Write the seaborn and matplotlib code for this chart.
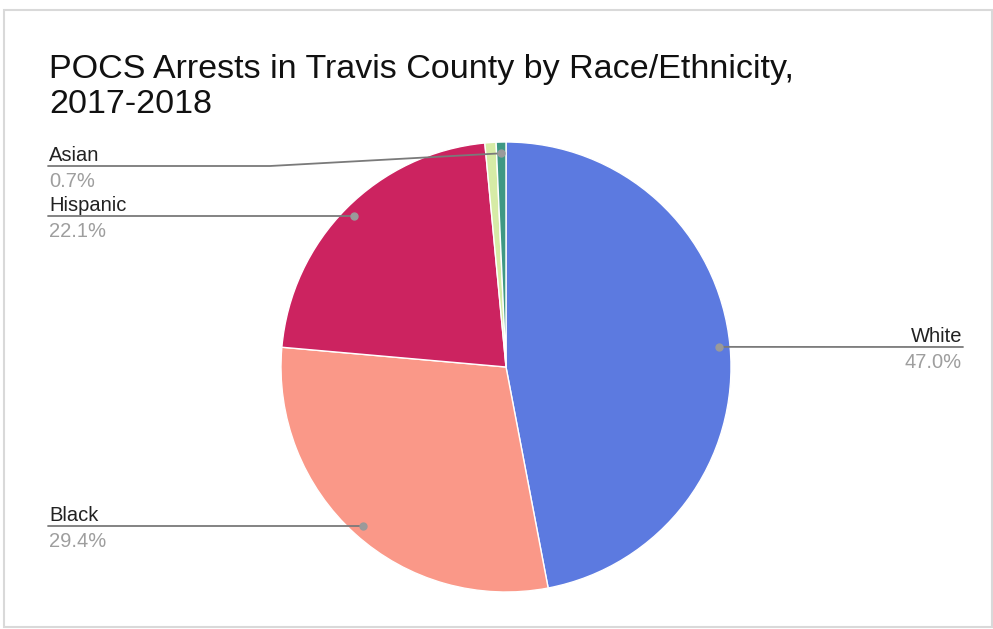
import numpy as np
import matplotlib
matplotlib.use("Agg")
import matplotlib.pyplot as plt
import matplotlib.patches as mpatches
import seaborn as sns

# data (clockwise from 12 o'clock)
races = ["White", "Black", "Hispanic", "Other", "Asian"]
shares = [47.0, 29.4, 22.1, 0.8, 0.7]
show_label = [True, True, True, False, True]
colors = ["#5c7ae0", "#fa9888", "#cc2360", "#d6eba6", "#3e9884"]
title_lines = ["POCS Arrests in Travis County by Race/Ethnicity,", "2017-2018"]

sns.set_theme(style="white")
plt.rcParams["font.family"] = ["Liberation Sans", "DejaVu Sans"]

W, H = 993, 629
fig = plt.figure(figsize=(W / 100, H / 100), dpi=100)
ax = fig.add_axes([0, 0, 1, 1])

def py(y):
    # pixel row -> data y
    return H - y

cx, cy, r = 506, py(367), 225
wedges, _ = ax.pie(shares, colors=colors, startangle=90, counterclock=False,
                   center=(cx, cy), radius=r, frame=True,
                   wedgeprops=dict(edgecolor="white", linewidth=1))
ax.set_xlim(0, W)
ax.set_ylim(0, H)
ax.set_aspect("equal")
ax.axis("off")

# card frame
ax.add_patch(mpatches.Rectangle((4, py(627)), 988, 617, facecolor="white",
                                edgecolor="#d9d9d9", lw=1.5, zorder=0))

for i, line in enumerate(title_lines):
    ax.text(49, py(78 + 35 * i), line, fontsize=24.5, color="#111111",
            va="baseline", ha="left")

# label layout: (line row, side, elbow x)
layout = {
    "White": (347, "right", None),
    "Black": (526, "left", None),
    "Hispanic": (216, "left", None),
    "Asian": (166, "left", 270),
}

for w, name, val, show in zip(wedges, races, shares, show_label):
    if not show:
        continue
    mid = np.deg2rad((w.theta1 + w.theta2) / 2)
    dx = cx + 0.95 * r * np.cos(mid)
    dy = cy + 0.95 * r * np.sin(mid)
    ly, side, elbow = layout[name]
    ly = py(ly)
    if side == "left":
        x0 = 48
        ex = elbow if elbow is not None else dx
        ax.plot([x0, ex, dx], [ly, ly, dy], color="#7a7a7a", lw=1.3, zorder=3)
        tx, ha = 49, "left"
    else:
        x0 = 963
        ax.plot([dx, x0], [dy, ly], color="#7a7a7a", lw=1.3, zorder=3)
        tx, ha = 962, "right"
    ax.plot(dx, dy, "o", ms=5, color="#9a9a9a", zorder=4)
    ax.text(tx, ly + 5, name, fontsize=14.5, color="#222222", ha=ha, va="baseline")
    ax.text(tx, ly - 21, f"{val:.1f}%", fontsize=14.5, color="#9e9e9e", ha=ha, va="baseline")

fig.savefig("out.png", dpi=100)
